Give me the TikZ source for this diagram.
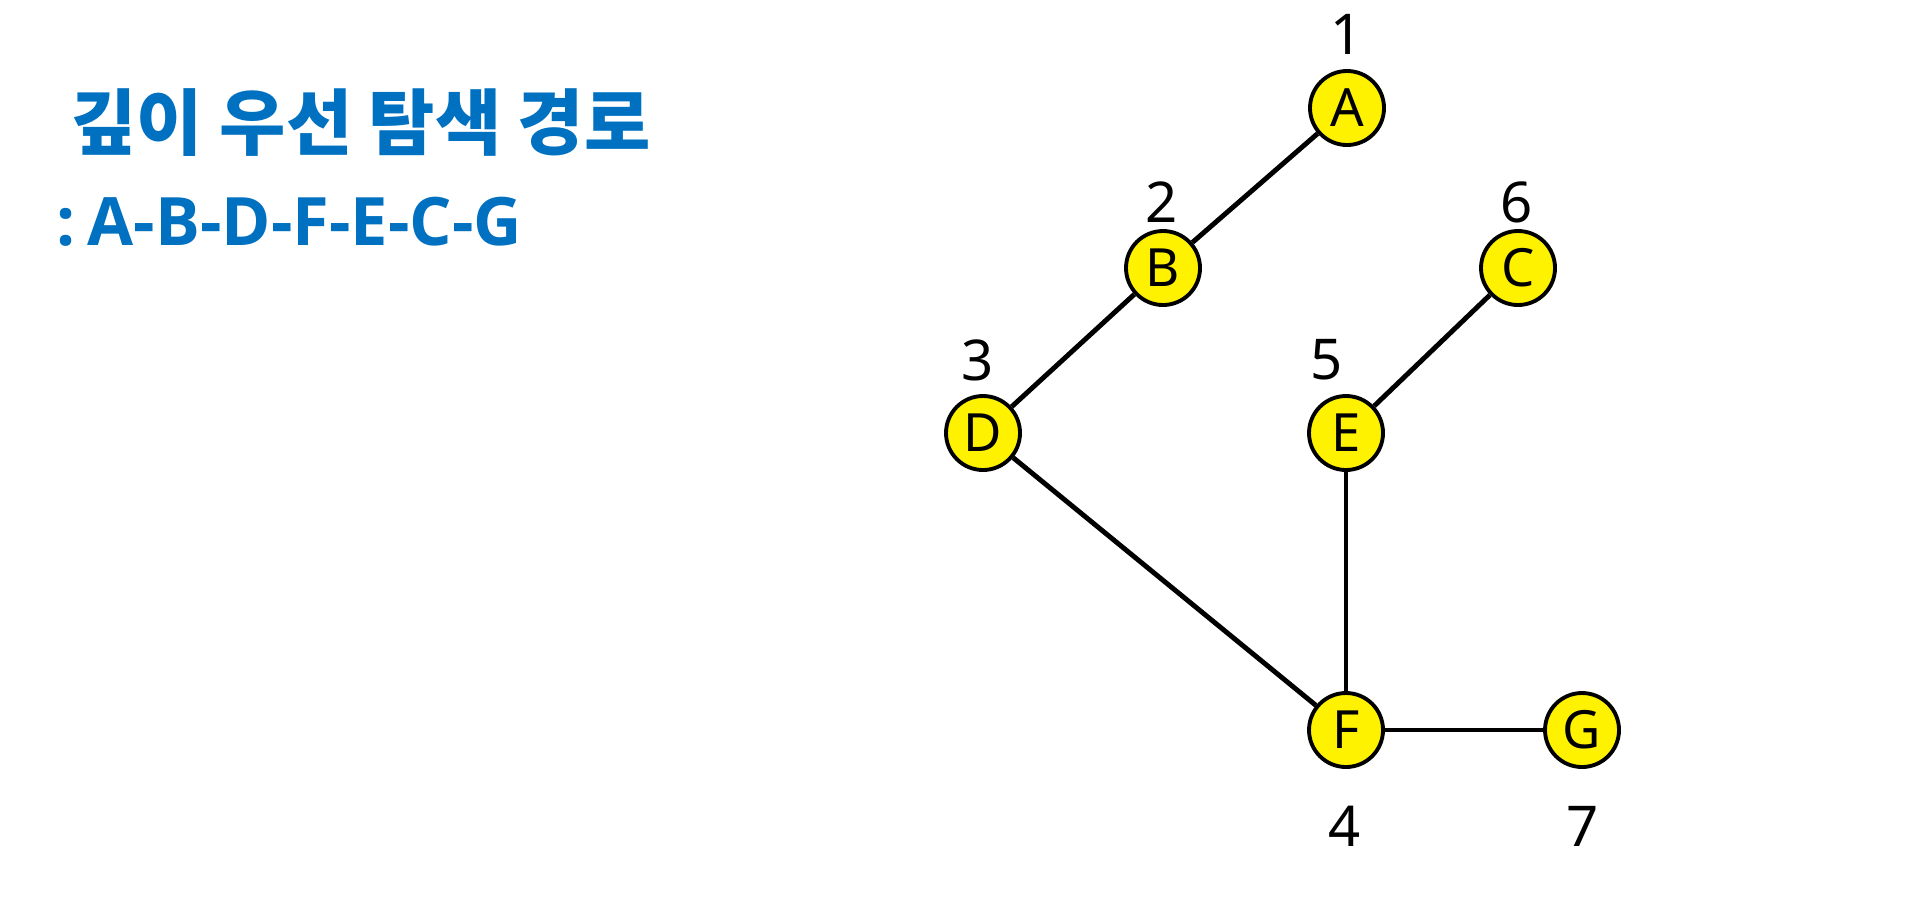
\documentclass[tikz,border=0pt]{standalone}
\usepackage{fontspec}
\setmainfont{Noto Sans}
\newfontfamily\kofont{Noto Sans CJK KR}
\newfontfamily\orderfont{Open Sans}
\definecolor{pathblue}{HTML}{0070C0}
\tikzset{
  vertex/.style={circle, draw=black, line width=1.1pt, fill=yellow, minimum size=0.74cm, inner sep=0pt, font=\fontsize{15}{15}\selectfont},
  num/.style={font=\fontsize{16}{16}\selectfont, inner sep=0pt},
  edge/.style={line width=1.4pt, black},
  heading/.style={text=pathblue, inner sep=0pt}
}
\begin{document}
\begin{tikzpicture}

    \useasboundingbox (0,0) rectangle (19.2,9.05);

    % Title
    \node[heading, anchor=base west, font=\kofont\bfseries\fontsize{20.5}{24}\selectfont] (title) at (0.70,7.56) {깊이 우선 탐색 경로};
    \node[heading, anchor=base west, font=\orderfont\bfseries\fontsize{19}{24}\selectfont] (order) at (0.56,6.60) {:\hspace{0.18em}A-B-D-F-E-C-G};

    % Vertices
    \node[vertex] (A) at (13.47,7.97) {A};
    \node[vertex] (B) at (11.63,6.37) {B};
    \node[vertex] (C) at (15.18,6.37) {C};
    \node[vertex] (D) at (9.83,4.72) {D};
    \node[vertex] (E) at (13.46,4.72) {E};
    \node[vertex] (F) at (13.46,1.75) {F};
    \node[vertex] (G) at (15.82,1.75) {G};

    % Edges
    \draw[edge] (A) -- (B);
    \draw[edge] (B) -- (D);
    \draw[edge] (D) -- (F);
    \draw[edge] (F) -- (E);
    \draw[edge] (E) -- (C);
    \draw[edge] (F) -- (G);

    % Visit order
    \node[num] (n1) at (13.47,8.71) {1};
    \node[num] (n2) at (11.62,7.03) {2};
    \node[num] (n3) at (9.78,5.45) {3};
    \node[num] (n4) at (13.45,0.79) {4};
    \node[num] (n5) at (13.27,5.45) {5};
    \node[num] (n6) at (15.17,7.03) {6};
    \node[num] (n7) at (15.83,0.79) {7};

  \end{tikzpicture}
\end{document}
